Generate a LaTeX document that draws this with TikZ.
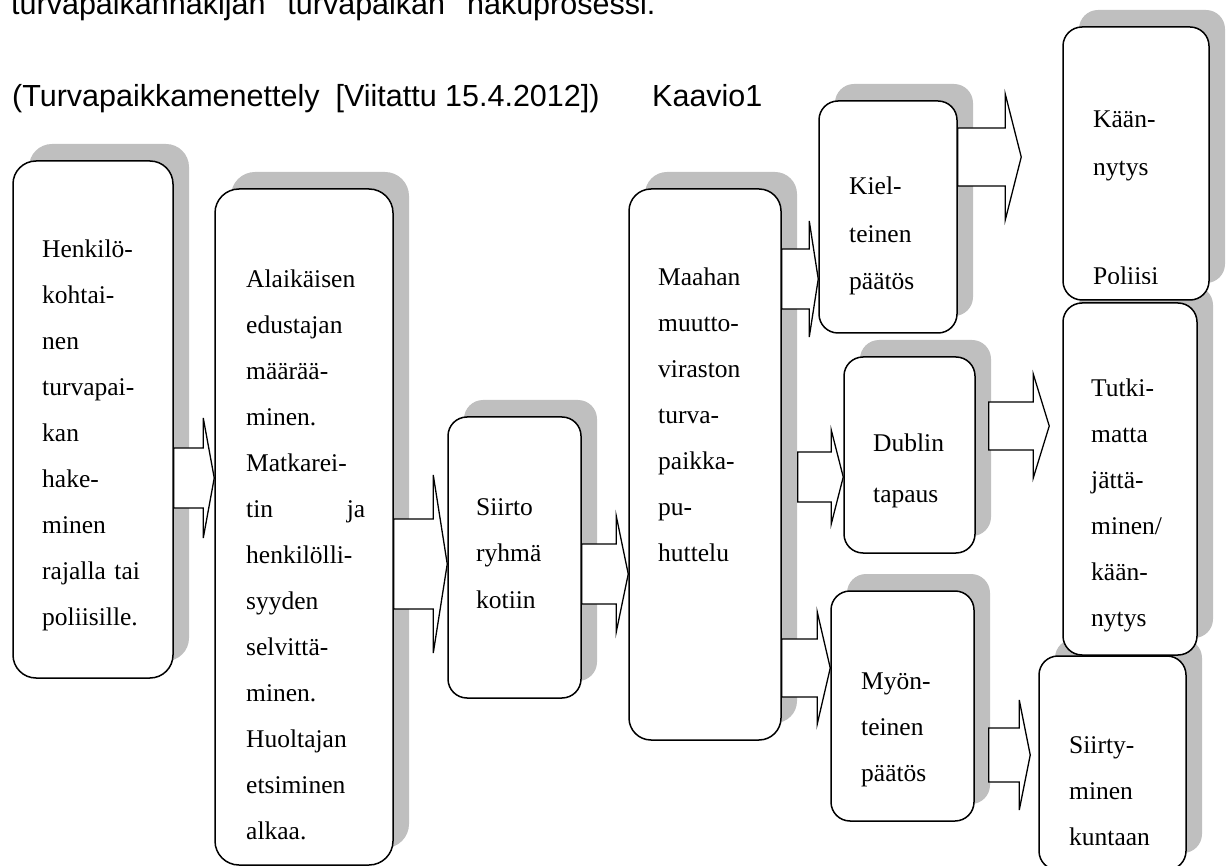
\documentclass[tikz,border=0pt]{standalone}
\usepackage{fontspec}
\setmainfont{Liberation Serif}
\newfontfamily\headfont{Liberation Sans}
\usetikzlibrary{calc,shadows}

% block arrow: start, tip, half shaft, half head, head length
\newcommand{\blockarrow}[5]{%
  \draw[blockarr] let \p1=(#1), \p2=(#2) in
    (\x1,\y1+#3) -- (\x2-#5,\y1+#3) -- (\x2-#5,\y1+#4) -- (\x2,\y1)
    -- (\x2-#5,\y1-#4) -- (\x2-#5,\y1-#3) -- (\x1,\y1-#3) -- cycle;}

\begin{document}
\begin{tikzpicture}[x=1pt,y=-1pt,
  box/.style={draw,line width=1.5pt,fill=white,rounded corners=19pt,inner sep=0pt,
    drop shadow={shadow xshift=16pt,shadow yshift=17pt,fill=black!25,opacity=1}},
  boxtext/.style={anchor=base west,inner sep=0pt,text width=#1,
    font=\fontsize{25.5}{46}\selectfont},
  headtext/.style={anchor=base west,inner sep=0pt,font=\headfont\fontsize{30.5}{36}\selectfont},
  blockarr/.style={draw,line width=1.3pt,fill=white,line join=miter}]
  \useasboundingbox (0,0) rectangle (1232,866);

  % heading
  \node[headtext] (head) at (11,15) {turvapaikanhakijan\hspace{22pt}turvapaikan\hspace{22pt}hakuprosessi.};
  \node[headtext] (ref) at (12,107) {(Turvapaikkamenettely\hspace{16pt}[Viitattu 15.4.2012])};
  \node[headtext] (kaavio) at (652,107) {Kaavio1};

  % boxes
  \node[box,rounded corners=23pt,minimum width=160pt,minimum height=517pt] (b1) at (93,419.5) {};
  \node[box,rounded corners=24pt,minimum width=178pt,minimum height=676pt] (b2) at (304,527) {};
  \node[box,minimum width=133pt,minimum height=281pt] (b3) at (514.5,557.5) {};
  \node[box,rounded corners=22pt,minimum width=152pt,minimum height=551pt] (b4) at (705,464.5) {};
  \node[box,minimum width=138pt,minimum height=232pt] (b5) at (888,217) {};
  \node[box,minimum width=131pt,minimum height=196pt] (b7) at (909.5,455) {};
  \node[box,minimum width=143pt,minimum height=230pt] (b9) at (902.5,706) {};
  \node[box,minimum width=147pt,minimum height=214pt] (b10) at (1112.5,763) {};
  \node[box,minimum width=134pt,minimum height=352pt] (b8) at (1130,479) {};
  \node[box,minimum width=146pt,minimum height=273pt] (b6) at (1136,163.5) {};

  % texts
  \node[boxtext=115pt] (t1) at (42,258) {Henkilö-\\kohtai-\\nen\\turvapai-\\kan\\hake-\\minen\\rajalla tai\\poliisille.};
  \node[boxtext=119pt] (t2) at (246,288) {Alaikäisen\\edustajan\\määrää-\\minen.\\Matkarei-\\tin\hfill ja\\henkilölli-\\syyden\\selvittä-\\minen.\\Huoltajan\\etsiminen\\alkaa.};
  \node[boxtext=100pt,font=\fontsize{25.5}{46.5}\selectfont] (t3) at (476,515) {Siirto\\ryhmä\\kotiin};
  \node[boxtext=110pt] (t4) at (658,286) {Maahan\\muutto-\\viraston\\turva-\\paikka-\\pu-\\huttelu};
  \node[boxtext=100pt,font=\fontsize{25.5}{47.5}\selectfont] (t5) at (849,195) {Kiel-\\teinen\\päätös};
  \begin{scope}
    \clip (b6.north west) rectangle ($(b6.south east)+(0,-17)$);
    \node[boxtext=100pt,font=\fontsize{25.5}{48}\selectfont] (t6) at (1093,128) {Kään-\\nytys\\[61pt]Poliisi};
  \end{scope}
  \node[boxtext=95pt,font=\fontsize{25.5}{51}\selectfont] (t7) at (873,452) {Dublin\\tapaus};
  \node[boxtext=95pt] (t8) at (1091,397) {Tutki-\\matta\\jättä-\\minen/\\kään-\\nytys};
  \node[boxtext=100pt] (t9) at (861,689) {Myön-\\teinen\\päätös};
  \node[boxtext=105pt] (t10) at (1069,753) {Siirty-\\minen\\kuntaan};

  % block arrows
  \blockarrow{b1.east |- 0,478}{b2.west |- 0,478}{30}{60}{11}
  \blockarrow{b2.east |- 0,564}{b3.west |- 0,564}{45}{89}{14}
  \blockarrow{b3.east |- 0,574}{b4.west |- 0,574}{30}{58}{12}
  \blockarrow{b4.east |- 0,279}{b5.west |- 0,279}{30}{58}{9}
  \blockarrow{$(b4.east |- 0,477)+(16,0)$}{b7.west |- 0,477}{25}{47}{12}
  \blockarrow{b4.east |- 0,668}{b9.west |- 0,668}{29}{56}{13}
  \blockarrow{b5.east |- 0,157}{$(b6.west |- 0,157)+(-41,0)$}{29}{63}{16}
  \blockarrow{$(b7.east |- 0,426)+(13,0)$}{$(b8.west |- 0,426)+(-13,0)$}{24}{52}{16}
  \blockarrow{$(b9.east |- 0,755)+(14,0)$}{$(b10.west |- 0,755)+(-8,0)$}{27}{55}{11}
\end{tikzpicture}
\end{document}
